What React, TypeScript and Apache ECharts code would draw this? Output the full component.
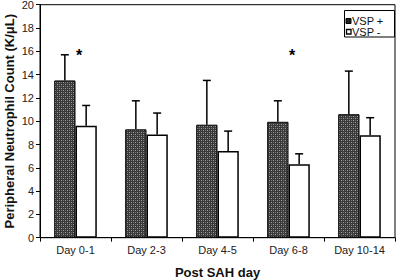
import React, { useEffect, useRef } from "react";
import * as echarts from "echarts";

const categories = ["Day 0-1", "Day 2-3", "Day 4-5", "Day 6-8", "Day 10-14"];
const vspPlus = [13.5, 9.3, 9.7, 9.95, 10.6];
const vspPlusErr = [15.7, 11.75, 13.5, 11.75, 14.3];
const vspMinus = [9.6, 8.85, 7.45, 6.3, 8.8];
const vspMinusErr = [11.35, 10.7, 9.15, 7.2, 10.3];
const legendNames = ["VSP +", "VSP -"];
const starCategories = [0, 3];
const starValue = 16;

function makePattern(): HTMLCanvasElement {
  const c = document.createElement("canvas");
  c.width = 4;
  c.height = 4;
  const ctx = c.getContext("2d")!;
  ctx.fillStyle = "#3a3a3a";
  ctx.fillRect(0, 0, 4, 4);
  ctx.fillStyle = "#a0a0a0";
  ctx.fillRect(1, 0, 1, 1);
  ctx.fillRect(3, 2, 1, 1);
  ctx.fillStyle = "#707070";
  ctx.fillRect(1, 2, 1, 1);
  ctx.fillRect(3, 0, 1, 1);
  return c;
}

export default function App() {
  const ref = useRef<HTMLDivElement>(null);
  useEffect(() => {
    const chart = echarts.init(ref.current!, null, { renderer: "svg" });
    const pat = makePattern();
    const patternFill: any = { image: pat, repeat: "repeat" };
    const font = "'Liberation Sans', Arial, sans-serif";

    const errSeries = (vals: number[], side: number, name: string) => ({
      type: "custom",
      name: name + "err",
      silent: true,
      z: 1,
      data: vals.map((v, i) => [i, v]),
      renderItem: (params: any, api: any) => {
        const i = api.value(0);
        const cw = api.size([1, 0])[0];
        const bw = (cw * 0.6) / 2;
        const base = api.coord([i, 0]);
        const x = base[0] + (side * bw) / 2;
        const top = api.coord([i, api.value(1)])[1];
        const low = api.coord([i, (side < 0 ? vspPlus : vspMinus)[i]])[1];
        return {
          type: "group",
          children: [
            { type: "line", shape: { x1: x, y1: low, x2: x, y2: top }, style: { stroke: "#000", lineWidth: 1.5 } },
            { type: "line", shape: { x1: x - 4, y1: top, x2: x + 4, y2: top }, style: { stroke: "#000", lineWidth: 1.5 } },
          ],
        };
      },
    });

    chart.setOption({
      animation: false,
      textStyle: { fontFamily: font },
      grid: {
        left: 40,
        right: 1,
        top: 4.7,
        bottom: 42.3,
        outerBoundsMode: "none",
        containLabel: false,
        show: true,
        borderColor: "#000",
        borderWidth: 1,
        backgroundColor: "transparent",
      },
      graphic: [
        {
          type: "rect",
          shape: { x: 344.5, y: 10.5, width: 50, height: 26.5 },
          style: { fill: "#fff", stroke: "#000", lineWidth: 1 },
          z: 10,
        },
        {
          type: "rect",
          shape: { x: 346, y: 18.5, width: 5, height: 5 },
          style: { fill: "#222", stroke: "#000", lineWidth: 1 },
          z: 11,
        },
        {
          type: "rect",
          shape: { x: 346.5, y: 29.5, width: 4.5, height: 4.5 },
          style: { fill: "#fff", stroke: "#000", lineWidth: 1.3 },
          z: 11,
        },
        {
          type: "text",
          x: 352,
          y: 21,
          style: { text: legendNames[0], fontSize: 11, fontFamily: font, fill: "#111", verticalAlign: "middle" },
          z: 11,
        },
        {
          type: "text",
          x: 352,
          y: 32,
          style: { text: legendNames[1], fontSize: 11, fontFamily: font, fill: "#111", verticalAlign: "middle" },
          z: 11,
        },
      ],
      xAxis: {
        type: "category",
        data: categories,
        name: "Post SAH day",
        nameLocation: "middle",
        nameGap: 28,
        nameMoveOverlap: false,
        nameTextStyle: { fontWeight: "bold", fontSize: 13, color: "#111", fontFamily: font },
        axisLine: { lineStyle: { color: "#000", width: 1 } },
        axisTick: { show: true, length: 4, lineStyle: { color: "#000" } },
        axisLabel: { fontSize: 11, color: "#222", margin: 7, fontFamily: font },
      },
      yAxis: {
        type: "value",
        min: 0,
        max: 20,
        interval: 2,
        name: "Peripheral Neutrophil Count (K/\u03bcL)",
        nameLocation: "middle",
        nameGap: 24,
        nameMoveOverlap: false,
        nameTextStyle: { fontWeight: "bold", fontSize: 13, color: "#111", fontFamily: font },
        axisLine: { show: true, lineStyle: { color: "#000", width: 1 } },
        axisTick: { show: true, length: 4, lineStyle: { color: "#000" } },
        axisLabel: { fontSize: 11, color: "#222", margin: 6, fontFamily: font },
        splitLine: { show: false },
      },
      series: [
        {
          type: "bar",
          name: legendNames[0],
          data: vspPlus,
          barGap: "0%",
          barCategoryGap: "40%",
          itemStyle: { color: patternFill, borderColor: "#000", borderWidth: 1 },
          z: 2,
        },
        {
          type: "bar",
          name: legendNames[1],
          data: vspMinus,
          barGap: "0%",
          barCategoryGap: "40%",
          itemStyle: { color: "#fff", borderColor: "#000", borderWidth: 1.5 },
          z: 2,
        },
        errSeries(vspPlusErr, -1, "p"),
        errSeries(vspMinusErr, 1, "m"),
        {
          type: "custom",
          name: "stars",
          silent: true,
          data: starCategories.map((c) => [c, starValue]),
          renderItem: (params: any, api: any) => {
            const p = api.coord([api.value(0), api.value(1)]);
            return {
              type: "text",
              x: p[0] + 3.5,
              y: p[1] + 4,
              style: {
                text: "*",
                fontSize: 16,
                fontWeight: "bold",
                fontFamily: font,
                fill: "#000",
                align: "center",
                verticalAlign: "middle",
              },
            };
          },
        },
      ],
    });
    return () => chart.dispose();
  }, []);
  return <div ref={ref} style={{ position: "absolute", left: 0, top: 0, width: 396, height: 280 }} />;
}
